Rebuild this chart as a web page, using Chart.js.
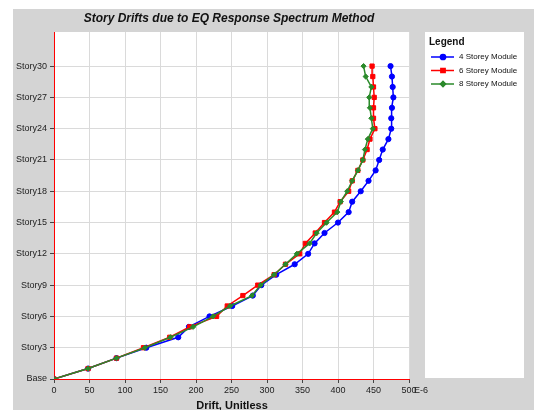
<!DOCTYPE html>
<html>
<head>
<meta charset="utf-8">
<script src="https://cdn.jsdelivr.net/npm/chart.js@4.4.1/dist/chart.umd.min.js"></script>
<style>
  html, body { margin: 0; padding: 0; background: #ffffff; }
  #wrap { position: relative; width: 534px; height: 410px; overflow: hidden; }
  canvas { display: block; }
</style>
</head>
<body>
<div id="wrap"><canvas id="c" width="534" height="410"></canvas></div>
<script>
// Story levels (0 = Base) and drift values (x 1E-6) per model
const stories = [0,1,2,3,4,5,6,7,8,9,10,11,12,13,14,15,16,17,18,19,20,21,22,23,24,25,26,27,28,29,30];
const drift4 = [0,48,88,130,175,190,219,251,280,292,313,339,358,367,381,400,415,420,432,443,453,458,463,471,475,475,476,478,477,476,474];
const drift6 = [0,48,88,126,163,191,229,244,266,287,310,326,346,354,368,381,395,403,415,420,428,435,441,445,452,450,450,451,450,449,448];
const drift8 = [0,48,88,128,164,196,224,248,279,291,310,326,342,360,370,384,399,404,413,420,428,435,438,442,449,447,445,444,447,439,436];
const seriesNames = ['4 Storey Module', '6 Storey Module', '8 Storey Module'];
const xTicks = [0,50,100,150,200,250,300,350,400,450,500];
const yTicks = [0,3,6,9,12,15,18,21,24,27,30];

const FONT = '"Liberation Sans", Arial, sans-serif';
const COLORS = ['#0000ff', '#ff0000', '#2a8a2a'];
const MARKERS = ['circle', 'rect', 'rectRot'];
const RADII = [2.6, 3, 2.6];

const toPoints = arr => arr.map((v, i) => ({ x: v, y: stories[i] }));

const frame = {
  id: 'frame',
  beforeDraw(chart) {
    const { ctx, chartArea: a } = chart;
    ctx.save();
    ctx.fillStyle = '#ffffff';
    ctx.fillRect(0, 0, chart.width, chart.height);
    ctx.fillStyle = '#d4d4d4';
    ctx.fillRect(13, 9, chart.width - 13, chart.height - 9);
    ctx.fillStyle = '#ffffff';
    ctx.fillRect(a.left, a.top, a.right - a.left, a.bottom - a.top);
    // legend panel
    ctx.fillRect(425, 32, 99, 346);
    ctx.restore();
  },
  afterDraw(chart) {
    const { ctx, chartArea: a } = chart;
    ctx.save();
    // title
    ctx.fillStyle = '#111';
    ctx.textAlign = 'center';
    ctx.textBaseline = 'middle';
    ctx.font = 'italic bold 12px ' + FONT;
    ctx.fillText('Story Drifts due to EQ Response Spectrum Method', 229, 19);
    // axis title and unit
    ctx.font = 'bold 11px ' + FONT;
    ctx.fillText('Drift, Unitless', 232, 406);
    ctx.font = '9px ' + FONT;
    ctx.textAlign = 'left';
    ctx.fillStyle = '#222';
    ctx.fillText('E-6', a.right + 5, 391);
    // legend
    ctx.fillStyle = '#111';
    ctx.font = 'bold 10px ' + FONT;
    ctx.fillText('Legend', 429, 42);
    ctx.font = '8px ' + FONT;
    chart.data.datasets.forEach((ds, i) => {
      const y = 57 + i * 13.5;
      ctx.strokeStyle = ds.borderColor;
      ctx.lineWidth = 1.5;
      ctx.beginPath();
      ctx.moveTo(431, y);
      ctx.lineTo(454, y);
      ctx.stroke();
      Chart.helpers.drawPoint(ctx, {
        pointStyle: ds.pointStyle, radius: ds.pointRadius, rotation: 0,
        borderWidth: 1
      }, 443, y);
      ctx.fillStyle = ds.borderColor;
      ctx.fill();
      ctx.fillStyle = '#111';
      ctx.fillText(ds.label, 459, y);
    });
    ctx.restore();
  }
};

const datasets = [drift4, drift6, drift8].map((arr, i) => ({
  label: seriesNames[i],
  data: toPoints(arr),
  borderColor: COLORS[i],
  backgroundColor: COLORS[i],
  pointBackgroundColor: COLORS[i],
  pointBorderColor: COLORS[i],
  pointStyle: MARKERS[i],
  pointRadius: RADII[i],
  pointBorderWidth: 1,
  borderWidth: 1.5,
  tension: 0,
  order: 2 - i
}));

new Chart(document.getElementById('c'), {
  type: 'line',
  data: { datasets },
  options: {
    responsive: false,
    animation: false,
    devicePixelRatio: 1,
    layout: { padding: { left: 0, top: 32, right: 125, bottom: 0 } },
    plugins: { legend: { display: false }, title: { display: false }, tooltip: { enabled: false } },
    scales: {
      x: {
        type: 'linear',
        min: 0, max: 500,
        afterFit(s) { s.height = 31; },
        afterBuildTicks(s) { s.ticks = xTicks.map(v => ({ value: v })); },
        ticks: { color: '#222', font: { family: FONT, size: 9 }, padding: 2, maxRotation: 0, autoSkip: false },
        grid: { color: '#dadada', lineWidth: 1, tickColor: '#444', tickLength: 4 },
        border: { color: '#ff0000', width: 1 }
      },
      y: {
        type: 'linear',
        min: 0, max: 33.27,
        afterFit(s) { s.width = 54; },
        afterBuildTicks(s) { s.ticks = yTicks.map(v => ({ value: v })); },
        ticks: {
          color: '#222', font: { family: FONT, size: 9 }, padding: 3, autoSkip: false,
          callback: v => v === 0 ? 'Base' : 'Story' + v
        },
        grid: { color: '#dadada', lineWidth: 1, tickColor: '#444', tickLength: 4 },
        border: { color: '#ff0000', width: 1 }
      }
    }
  },
  plugins: [frame]
});
</script>
</body>
</html>
